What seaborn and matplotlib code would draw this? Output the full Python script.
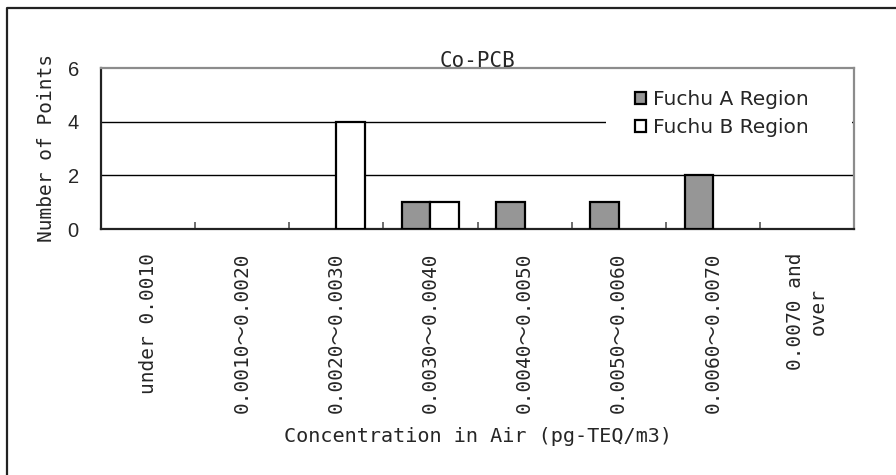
import matplotlib
matplotlib.use("Agg")
import matplotlib.pyplot as plt
from matplotlib.patches import Rectangle, Patch
from matplotlib.lines import Line2D
import seaborn as sns
import pandas as pd

# Concentration classes and number of sampling points per region
categories = [
    "under 0.0010",
    "0.0010～0.0020",
    "0.0020～0.0030",
    "0.0030～0.0040",
    "0.0040～0.0050",
    "0.0050～0.0060",
    "0.0060～0.0070",
    "0.0070 and\nover",
]
region_a = [0, 0, 0, 1, 1, 1, 2, 0]
region_b = [0, 0, 4, 1, 0, 0, 0, 0]
series_names = ["Fuchu A Region", "Fuchu B Region"]
series_colors = ["#969696", "white"]
y_ticks = [0, 2, 4, 6]

df = pd.DataFrame({
    "category": categories * 2,
    "count": region_a + region_b,
    "region": [series_names[0]] * len(categories) + [series_names[1]] * len(categories),
})

sns.set_theme(style="white")
mono = ["DejaVu Sans Mono", "Noto Sans CJK JP"]

fig = plt.figure(figsize=(8.96, 4.75), dpi=100)
ax = fig.add_axes([101 / 896, 1 - 229 / 475, 753 / 896, 161 / 475])

sns.barplot(
    data=df, x="category", y="count", hue="region",
    order=categories, hue_order=series_names,
    palette=dict(zip(series_names, series_colors)),
    edgecolor="black", linewidth=1.6, width=0.6, ax=ax, zorder=3,
    saturation=1, legend=False,
)
# empty classes draw no outline on the baseline
for bar in ax.patches:
    if bar.get_height() == 0:
        bar.set_linewidth(0)

ax.set_ylim(0, 6)
ax.set_xlim(-0.5, len(categories) - 0.5)
ax.set_yticks(y_ticks)
ax.set_yticklabels([str(t) for t in y_ticks], family="Liberation Sans", fontsize=14.5)
ax.tick_params(axis="y", length=0, pad=16)

# horizontal grid lines
for t in y_ticks[1:-1]:
    ax.axhline(t, color="black", lw=1.0, zorder=1)

# white area behind the legend
ax.add_patch(Rectangle((0.671, 0.45), 0.326, 0.52, transform=ax.transAxes,
                       facecolor="white", edgecolor="none", zorder=2))

# category labels and boundary ticks
ax.set_xticks(range(len(categories)))
ax.set_xticklabels(categories, rotation=90, family=mono, fontsize=14,
                   va="top", ha="center", multialignment="center")
ax.tick_params(axis="x", which="major", length=0, pad=17)
ax.set_xticks([i + 0.5 for i in range(len(categories) - 1)], minor=True)
ax.tick_params(axis="x", which="minor", direction="in", length=5,
               width=1.2, color="#555555", bottom=True)

ax.set_xlabel("Concentration in Air (pg-TEQ/m3)", family=mono, fontsize=14.5)
ax.xaxis.set_label_coords(0.5, -1.29)
ax.xaxis.label.set_va("center")
ax.set_ylabel("Number of Points", family=mono, fontsize=14)
ax.yaxis.set_label_coords(-0.072, 0.5)
ax.yaxis.label.set_va("center")

ax.set_title("Co-PCB", family=mono, fontsize=15, pad=1)

for side in ["left", "bottom"]:
    ax.spines[side].set_color("#222222")
    ax.spines[side].set_linewidth(1.6)
for side in ["top", "right"]:
    ax.spines[side].set_color("#8c8c8c")
    ax.spines[side].set_linewidth(1.6)

handles = [Patch(facecolor=c, edgecolor="black", linewidth=1.6) for c in series_colors]
ax.legend(handles, series_names, loc="upper left", bbox_to_anchor=(0.709, 0.865),
          frameon=False, prop={"family": "DejaVu Sans", "size": 14.5},
          handlelength=0.55, handleheight=0.55, handletextpad=0.35,
          labelspacing=0.46, borderaxespad=0, borderpad=0)

# outer chart frame
fig.add_artist(Line2D([7 / 896, 7 / 896, 1.0], [0.0, 1 - 8 / 475, 1 - 8 / 475],
                      transform=fig.transFigure, color="#222222", lw=1.6))

fig.savefig("out.png", dpi=100)
